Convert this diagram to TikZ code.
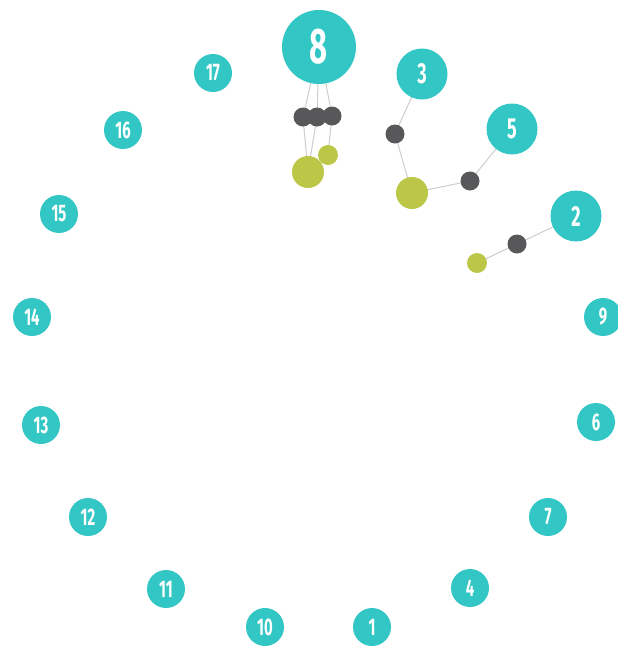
\documentclass[tikz,border=0pt]{standalone}
\usepackage{fontspec}
\newfontfamily\numfont[FakeStretch=0.62]{Fira Sans}
\usetikzlibrary{positioning}
\pgfdeclarelayer{background}
\pgfsetlayers{background,main}
\definecolor{tealc}{RGB}{50,199,196}
\definecolor{grayc}{RGB}{88,88,90}
\definecolor{greenc}{RGB}{188,199,72}
\definecolor{linkc}{RGB}{205,205,205}

\begin{document}
\begin{tikzpicture}[x=1pt,y=-1pt,
  num/.style={circle,fill=tealc,inner sep=0pt,minimum size=38pt,text=white,
    font=\numfont\bfseries\fontsize{24}{24}\selectfont},
  bignum/.style={num,minimum size=51pt,font=\numfont\bfseries\fontsize{29}{29}\selectfont},
  hugenum/.style={num,minimum size=74pt,font=\numfont\bfseries\fontsize{50}{50}\selectfont},
  dot/.style={circle,fill=grayc,inner sep=0pt,minimum size=19pt},
  seed/.style={circle,fill=greenc,inner sep=0pt,minimum size=#1},
  link/.style={draw=linkc,line width=1pt}]

\useasboundingbox (0,0) rectangle (618,646);

% ring of numbers
\node[hugenum] (n8)  at (319,47)  {8};
\node[bignum]  (n3)  at (422,74)  {3};
\node[bignum]  (n5)  at (512,129) {5};
\node[bignum]  (n2)  at (576,216) {2};
\node[num] (n9)  at (603,317) {9};
\node[num] (n6)  at (596,422) {6};
\node[num] (n7)  at (548,517) {7};
\node[num] (n4)  at (470,588) {4};
\node[num] (n1)  at (372,627) {1};
\node[num] (n10) at (265,627) {10};
\node[num] (n11) at (166,589) {11};
\node[num] (n12) at (88,517)  {12};
\node[num] (n13) at (41,425)  {13};
\node[num] (n14) at (32,317)  {14};
\node[num] (n15) at (59,214)  {15};
\node[num] (n16) at (123,130) {16};
\node[num] (n17) at (213,73)  {17};

% chains
\node[dot] (a1) at (303,117) {};
\node[dot] (a2) at (317,117) {};
\node[dot] (a3) at (332,116) {};
\node[seed=32pt] (s1) at (308,172) {};
\node[seed=20pt] (s2) at (328,155) {};

\node[dot] (b1) at (395,134) {};
\node[seed=32pt] (s3) at (412,193) {};
\node[dot] (b2) at (470,181) {};

\node[dot] (c1) at (517,244) {};
\node[seed=20pt] (s4) at (477,263) {};

\begin{pgfonlayer}{background}
  \foreach \g/\s in {a1/s1,a2/s1,a3/s2}{
    \draw[link] (n8.center) -- (\g.center) -- (\s.center);
  }
  \draw[link] (n3.center) -- (b1.center) -- (s3.center) -- (b2.center) -- (n5.center);
  \draw[link] (n2.center) -- (c1.center) -- (s4.center);
\end{pgfonlayer}
\end{tikzpicture}
\end{document}
